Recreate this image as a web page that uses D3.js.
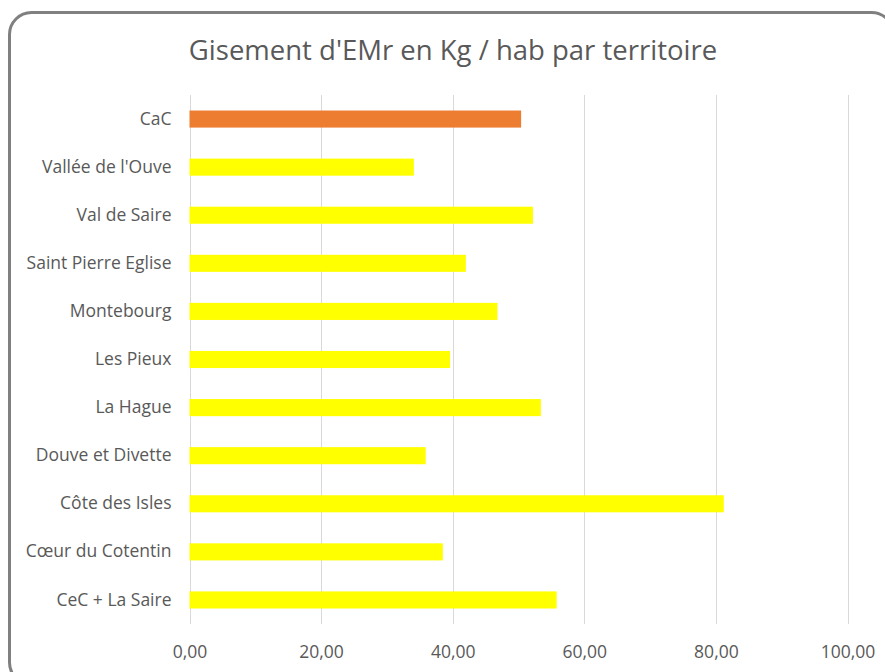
<!DOCTYPE html>
<html>
<head>
<meta charset="utf-8">
<script src="https://cdn.jsdelivr.net/npm/d3@7"></script>
<style>
    body { margin: 0; background: #fff; }
    svg { display: block; }
</style>
</head>
<body>
<script>
const territories = [
    "CaC",
    "Vallée de l'Ouve",
    "Val de Saire",
    "Saint Pierre Eglise",
    "Montebourg",
    "Les Pieux",
    "La Hague",
    "Douve et Divette",
    "Côte des Isles",
    "Cœur du Cotentin",
    "CeC + La Saire"
];
const kg_per_hab = [50.4, 34.1, 52.2, 42.0, 46.8, 39.6, 53.4, 35.9, 81.2, 38.5, 55.8];
const x_ticks = [0, 20, 40, 60, 80, 100];
const title = "Gisement d'EMr en Kg / hab par territoire";

const width = 885;
const height = 672;
const font = "'Open Sans', sans-serif";
const data = territories.map((t, i) => ({ name: t, value: kg_per_hab[i] }));

const svg = d3.select("body")
    .append("svg")
    .attr("width", width)
    .attr("height", height);

// chart frame, cut off at right and bottom like the screenshot
svg.append("rect")
    .attr("x", 9.5)
    .attr("y", 12.5)
    .attr("width", 884)
    .attr("height", 672)
    .attr("rx", 22)
    .attr("fill", "white")
    .attr("stroke", "#808080")
    .attr("stroke-width", 3);

svg.append("text")
    .attr("x", 453)
    .attr("y", 60)
    .attr("text-anchor", "middle")
    .attr("fill", "#595959")
    .style("font-family", font)
    .style("font-size", "27.5px")
    .text(title);

const x = d3.scaleLinear()
    .domain([0, 100])
    .range([189.5, 847.5]);
const y = d3.scaleBand()
    .domain(territories)
    .range([95, 624])
    .paddingInner(0.645)
    .paddingOuter(0.3225);

svg.append("g")
    .attr("id", "grid")
    .selectAll("line")
    .data(x_ticks)
    .join("line")
    .attr("x1", d => Math.round(x(d)) + 0.5)
    .attr("x2", d => Math.round(x(d)) + 0.5)
    .attr("y1", 95)
    .attr("y2", 624)
    .attr("stroke", "#d9d9d9")
    .attr("stroke-width", 1);

svg.append("g")
    .attr("id", "bars")
    .selectAll("rect")
    .data(data)
    .join("rect")
    .attr("x", x(0))
    .attr("y", d => y(d.name))
    .attr("width", d => x(d.value) - x(0))
    .attr("height", y.bandwidth())
    .attr("fill", (d, i) => i === 0 ? "#ed7d31" : "#ffff00");

const x_axis = svg.append("g")
    .attr("transform", "translate(0,624)")
    .call(d3.axisBottom(x)
        .tickValues(x_ticks)
        .tickSize(0)
        .tickPadding(22)
        .tickFormat(d => d3.format(".2f")(d).replace(".", ",")));
x_axis.select(".domain").remove();
x_axis.selectAll("text")
    .attr("fill", "#595959")
    .style("font-size", "17.5px")
    .style("font-family", font);

const y_axis = svg.append("g")
    .attr("transform", "translate(189.5,0)")
    .call(d3.axisLeft(y).tickSize(0).tickPadding(18));
y_axis.select(".domain").remove();
y_axis.selectAll("text")
    .attr("fill", "#595959")
    .style("font-size", "17.5px")
    .style("font-family", font);
</script>
</body>
</html>
